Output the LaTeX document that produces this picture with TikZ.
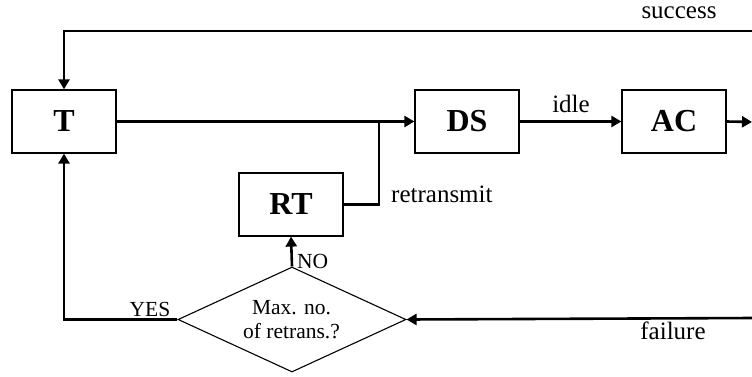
\documentclass[tikz,border=0pt]{standalone}
\usepackage{fontspec}
\setmainfont{Liberation Serif}
\usetikzlibrary{arrows.meta,shapes.geometric}
\begin{document}
\begin{tikzpicture}[x=1pt,y=-1pt,
  block/.style={draw,line width=1.2pt,minimum width=104pt,minimum height=63pt,
    inner sep=0pt,font=\fontsize{32}{36}\selectfont\bfseries},
  decision/.style={draw,diamond,line width=1.1pt,minimum width=228pt,
    minimum height=105pt,inner sep=0pt},
  flow/.style={line width=2.6pt,line join=miter},
  arr/.style={flow,-{Triangle[length=10pt,width=11pt]}},
  lbl/.style={inner sep=0pt,font=\fontsize{25}{28}\selectfont},
  small/.style={inner sep=0pt,font=\fontsize{21.5}{25}\selectfont}]
  \useasboundingbox (0,0) rectangle (752,376);

  % blocks
  \node[block] (T)  at (64,121.5)  {T};
  \node[block] (DS) at (467,121.5) {DS};
  \node[block] (AC) at (674,121.5) {AC};
  \node[block] (RT) at (291,204.5) {RT};
  \node[decision] (dec) at (292,319.5) {};
  \node[small,align=center] (q) at (291.5,320) {Max. no.\\[-1pt]of retrans.?};

  % loose ends at the right border and the merge point
  \coordinate (succ) at (752,31);
  \coordinate (out)  at (752,122);
  \coordinate (fail) at (752,318);
  \coordinate (j)    at (379,122);

  % connectors
  \draw[arr] (succ) -| (T.north);
  \draw[arr] (T.east) -- (DS.west);
  \draw[flow] (RT.east) -| (j);
  \draw[arr] (DS.east) -- (AC.west);
  \draw[arr] (AC.east) -- (out);
  \draw[arr] (fail) -- (dec.east);
  \draw[arr] (dec.north) -- (RT.south);
  \draw[arr] (dec.west) -| (T.south);

  % labels
  \node[lbl,anchor=base] (ls) at (679,18) {success};
  \node[lbl,anchor=base] (li) at (571,112) {idle};
  \node[lbl,anchor=base west] (lr) at (391,202) {retransmit};
  \node[lbl,anchor=base] (lf) at (673,339) {failure};
  \node[small,anchor=base] (ly) at (150,316) {YES};
  \node[small,anchor=base west] (ln) at (297,268) {NO};
\end{tikzpicture}
\end{document}
